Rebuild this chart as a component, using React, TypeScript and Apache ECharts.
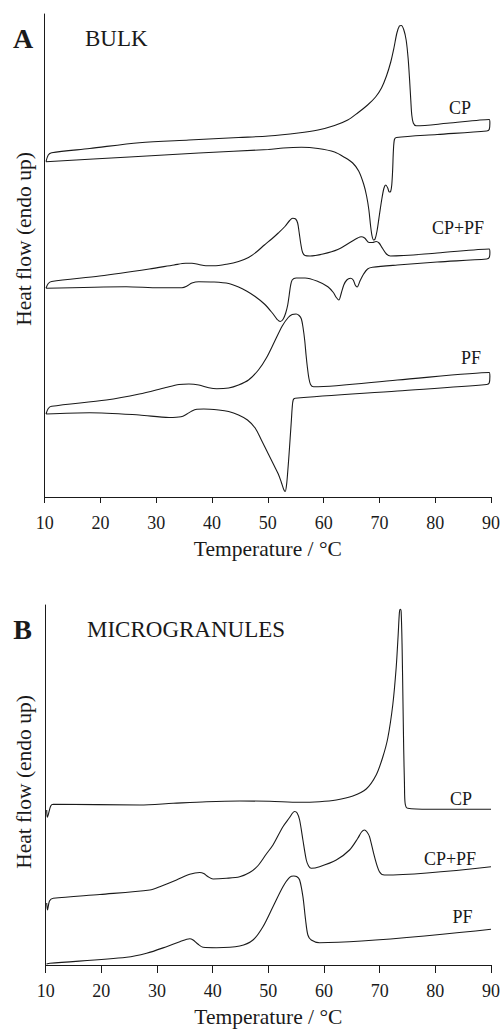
import React, { useEffect, useRef } from "react";
import * as echarts from "echarts";

// Temperature ticks (°C)
const tempTicks = [10, 20, 30, 40, 50, 60, 70, 80, 90];

// ---------- Panel A: BULK (heating, endo up; cooling from 90 back to 10) ----------
// [temperature °C, heat flow (arb. units)]
const bulkCPHeat: [number, number][] = [
  [10.23, 335.3], [10.64, 342], [11.25, 344.3], [18.06, 348.5], [26.96, 354.3], [35.85, 357],
  [44.75, 359.5], [50.09, 361], [55.43, 364], [58.99, 367], [61.96, 371.5], [64.32, 377],
  [66.1, 384], [67.88, 392], [69.31, 400], [70.37, 409], [71.26, 421], [72.03, 435],
  [72.6, 449], [73.13, 464], [73.58, 471], [73.93, 471.5], [74.38, 467], [74.79, 457],
  [75.14, 439], [75.41, 417], [75.62, 397], [75.8, 382], [76.07, 374], [76.6, 371.2],
  [82.12, 373.7], [89.68, 377.5], [89.8, 374], [89.68, 367.5],
];
const bulkCPCool: [number, number][] = [
  [89.23, 366], [80.34, 362.5], [73.04, 359.5], [72.69, 357.5], [72.51, 347], [72.37, 327],
  [72.21, 312], [72.01, 305.5], [71.76, 305], [71.49, 309], [71.14, 312], [70.82, 309],
  [70.46, 299], [70.02, 283], [69.57, 266], [69.22, 258], [68.95, 257], [68.68, 261],
  [68.42, 271], [68.11, 287], [67.7, 301], [67.17, 313], [66.28, 326], [65.21, 334],
  [63.79, 339.5], [61.96, 345], [58.99, 348.5], [56.01, 349.7], [52.76, 349], [50.09, 347.5],
  [37.63, 344], [25.18, 340], [10.23, 335.3],
];
const bulkMixHeat: [number, number][] = [
  [10.23, 208.7], [10.64, 213.5], [11.25, 215.5], [19.84, 221], [28.74, 228], [33.19, 232],
  [35.27, 233.7], [36.39, 233.7], [37.63, 232.5], [38.88, 231.2], [40.3, 231.2], [42.62, 232.8],
  [44.75, 235.5], [46.53, 239.5], [47.95, 245], [49.38, 252], [50.68, 258], [51.87, 264],
  [53.06, 270.5], [53.91, 276.5], [54.45, 278.7], [54.98, 278], [55.34, 274], [55.6, 265],
  [55.91, 253], [56.23, 244.5], [56.67, 241.5], [57.56, 241], [59.88, 243], [62.54, 247.5],
  [64.86, 255], [66.1, 259], [66.73, 260.3], [67.35, 259], [68.15, 254.5], [68.77, 254.5],
  [69.4, 255.5], [69.93, 254], [70.55, 248.7], [71.26, 243], [71.97, 241], [80.34, 244],
  [89.68, 248], [89.8, 244.5], [89.68, 239.5],
];
const bulkMixCool: [number, number][] = [
  [89.23, 238], [80.34, 235], [73.22, 232], [68.77, 229.7], [67.88, 228], [67.17, 223],
  [66.55, 216.5], [66.01, 210], [65.66, 212], [65.3, 217], [64.8, 218.7], [64.15, 217],
  [63.61, 212], [63.17, 204], [62.72, 197], [62.28, 199.5], [61.74, 204.5], [60.76, 210.3],
  [58.99, 215.5], [56.67, 219], [55.07, 219], [54.36, 217], [54.06, 211], [53.83, 202],
  [53.56, 192], [53.2, 184], [52.76, 178], [52.22, 175.5], [51.69, 177.5], [50.8, 184],
  [49.38, 193], [47.72, 200.5], [46.17, 206], [44.75, 210], [42.97, 213.5], [40.3, 215],
  [37.63, 215.3], [36.39, 214], [35.5, 211], [34.61, 209.3], [30.52, 209.2], [24.59, 210.3],
  [10.23, 208.7],
];
const bulkPFHeat: [number, number][] = [
  [10.23, 83], [10.64, 88.5], [11.25, 90.7], [21.03, 97], [26.96, 103], [31.71, 109.5],
  [34.07, 112.5], [35.85, 113], [37.63, 112], [39.41, 109.2], [40.84, 108.2], [42.97, 109],
  [44.75, 112], [46.53, 117], [48.31, 127], [49.73, 139], [51.16, 155], [52.58, 171],
  [53.65, 179.5], [54.36, 182.5], [55.07, 183], [55.6, 181.5], [56.01, 178], [56.32, 169],
  [56.62, 156], [56.85, 142], [57.08, 130], [57.35, 119], [57.65, 112.5], [58.19, 110.2],
  [73.22, 117], [89.68, 124.5], [89.8, 120.5], [89.68, 114],
];
const bulkPFCool: [number, number][] = [
  [89.23, 112.5], [73.22, 106], [54.89, 98.7], [54.54, 97], [54.36, 89], [54.22, 77],
  [54.0, 59], [53.79, 42], [53.56, 25], [53.35, 12], [53.11, 5.5], [52.85, 7.5],
  [52.4, 15], [51.87, 23], [51.16, 31], [50.09, 43], [48.84, 57], [47.72, 69],
  [46.35, 77], [44.75, 82], [42.97, 85.5], [41.19, 87], [38.52, 88], [37.28, 87.7],
  [36.39, 86], [35.5, 83], [34.43, 80.2], [32.3, 79.5], [26.96, 82], [18.06, 84.3],
  [10.23, 83],
];

// ---------- Panel B: MICROGRANULES (heating only) ----------
const microCP: [number, number][] = [
  [10.18, 155], [10.29, 147.7], [10.9, 159], [11.36, 160.7], [26.91, 160], [32.89, 161.7],
  [38.88, 163.3], [44.85, 164], [50.23, 163.7], [55.61, 162.7], [59.2, 163.3], [62.2, 165],
  [65.18, 169], [67.58, 176], [69.37, 190], [70.56, 208], [71.46, 227], [72.35, 260],
  [72.96, 297], [73.32, 330], [73.55, 353], [73.69, 355.7], [73.86, 353], [74.04, 315],
  [74.18, 265], [74.32, 215], [74.45, 182], [74.57, 161.7], [75.04, 156.7], [78.92, 155.7],
  [90.0, 155.7],
];
const microMix: [number, number][] = [
  [10.18, 62], [10.32, 55], [10.68, 64], [11.36, 66.7], [19.74, 70.5], [28.71, 75],
  [30.5, 78.3], [33.5, 85], [35.88, 90.7], [37.68, 92.5], [38.39, 91.5], [39.11, 88.5],
  [40.06, 86], [42.47, 86.7], [44.85, 88.3], [46.64, 92.5], [48.08, 99], [49.64, 111],
  [50.83, 120], [52.62, 138.3], [53.82, 147.5], [54.36, 152], [54.72, 153.5], [55.17, 152],
  [55.62, 145], [56.21, 125], [56.82, 105], [57.23, 99], [57.71, 96.7], [59.2, 98.3],
  [62.2, 105], [64.58, 115], [66.07, 126.7], [66.74, 133], [67.27, 135], [67.72, 133],
  [68.17, 128.3], [69.07, 108.3], [69.96, 93.3], [70.86, 90], [90.0, 98.3],
];
const microPF: [number, number][] = [
  [10.14, 1], [10.77, 1.7], [24.53, 7.7], [28.12, 11.7], [31.7, 18.3], [34.09, 23.3],
  [35.88, 26.3], [36.48, 25], [37.32, 21], [38.27, 17.7], [40.67, 17.3], [44.85, 19],
  [47.24, 25], [49.03, 38.3], [50.83, 58.3], [52.62, 78.3], [53.82, 87.7], [54.59, 89],
  [55.08, 88.5], [55.62, 85], [56.21, 68.3], [56.69, 45], [57.1, 30], [57.71, 25],
  [59.2, 22.3], [90.0, 35.7],
];

const FONT = "'Liberation Serif', 'Times New Roman', Times, serif";
const INK = "#1a1a1a";

export default function App() {
  const ref = useRef<HTMLDivElement>(null);

  useEffect(() => {
    if (!ref.current) return;
    const chart = echarts.init(ref.current, null, { renderer: "svg" });

    const xAxis = (gridIndex: number, tickLen: number) => ({
      type: "value",
      gridIndex,
      min: tempTicks[0],
      max: tempTicks[tempTicks.length - 1],
      interval: 10,
      axisLine: { show: true, onZero: false, lineStyle: { color: INK, width: 1 } },
      axisTick: { show: true, inside: false, length: tickLen, lineStyle: { color: INK, width: 1 } },
      axisLabel: { color: INK, fontFamily: FONT, fontSize: 18, margin: 17 },
      splitLine: { show: false },
      name: "Temperature / °C",
      nameLocation: "middle",
      nameGap: 41,
      nameTextStyle: { color: INK, fontFamily: FONT, fontSize: 21.5 },
    });
    const yAxis = (gridIndex: number, max: number) => ({
      type: "value",
      gridIndex,
      min: 0,
      max,
      axisLine: { show: true, lineStyle: { color: INK, width: 1 } },
      axisTick: { show: false },
      axisLabel: { show: false },
      splitLine: { show: false },
    });
    const line = (data: [number, number][], idx: number) => ({
      type: "line",
      xAxisIndex: idx,
      yAxisIndex: idx,
      data,
      showSymbol: false,
      symbol: "none",
      smooth: 0.3,
      lineStyle: { color: INK, width: 1.1 },
      silent: true,
    });
    const txt = (
      text: string, x: number, y: number, size: number,
      align: "left" | "center" = "center", weight: string = "normal", rotation = 0
    ) => ({
      type: "text",
      x, y, rotation,
      style: {
        text, fill: INK, fontFamily: FONT, fontSize: size, fontWeight: weight,
        textAlign: align, textVerticalAlign: "middle",
      },
      silent: true,
    });

    chart.setOption({
      animation: false,
      backgroundColor: "#ffffff",
      grid: [
        { left: 44.7, right: 8.7, top: 14, bottom: 533 },
        { left: 45.7, right: 11.3, top: 605, bottom: 65 },
      ],
      xAxis: [xAxis(0, 6), xAxis(1, 8)],
      yAxis: [yAxis(0, 483), yAxis(1, 360)],
      series: [
        line([...bulkCPHeat, ...bulkCPCool], 0),
        line([...bulkMixHeat, ...bulkMixCool], 0),
        line([...bulkPFHeat, ...bulkPFCool], 0),
        line(microCP, 1),
        line(microMix, 1),
        line(microPF, 1),
      ],
      graphic: [
        txt("A", 23, 38, 28, "center", "bold"),
        txt("BULK", 85, 38.4, 23, "left"),
        txt("B", 22.5, 629, 28, "center", "bold"),
        txt("MICROGRANULES", 87, 629.2, 23, "left"),
        txt("Heat flow (endo up)", 23.5, 239, 21.5, "center", "normal", Math.PI / 2),
        txt("Heat flow (endo up)", 23.5, 782, 21.5, "center", "normal", Math.PI / 2),
        txt("CP", 460, 107.5, 18),
        txt("CP+PF", 458, 228, 18),
        txt("PF", 471, 358.3, 18),
        txt("CP", 461, 799, 18),
        txt("CP+PF", 450, 859, 18),
        txt("PF", 462.5, 916.7, 18),
      ],
    });

    return () => chart.dispose();
  }, []);

  return (
    <div
      ref={ref}
      style={{ position: "absolute", left: 0, top: 0, width: 503, height: 1030, background: "#fff" }}
    />
  );
}
